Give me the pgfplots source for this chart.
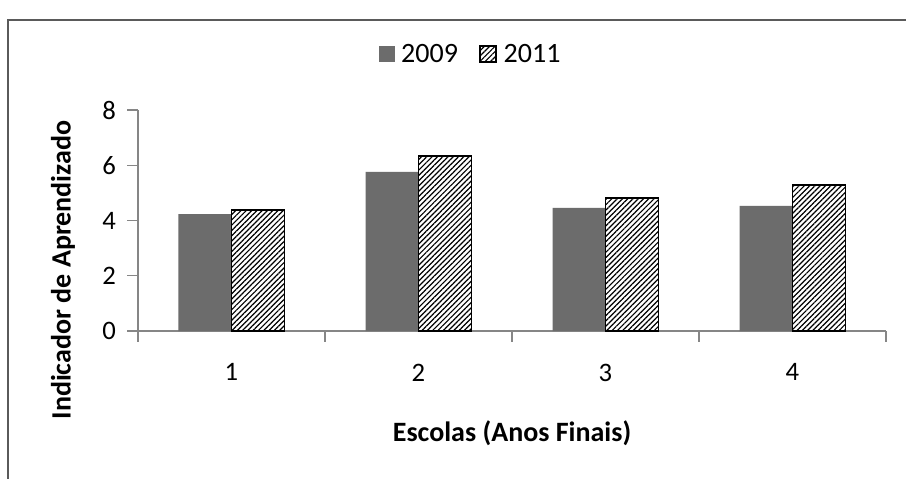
\documentclass[border=0pt]{standalone}
\usepackage{pgfplots}
\pgfplotsset{compat=1.18}
\usepackage{fontspec}
\setmainfont{Carlito}
\usetikzlibrary{patterns.meta}

\definecolor{bargray}{RGB}{108,108,108}
\definecolor{axgray}{RGB}{134,134,134}
\definecolor{framegray}{RGB}{90,90,90}

\newcommand{\tickfont}{\fontsize{20}{23}\selectfont}
\newcommand{\labfont}{\fontsize{21}{24}\selectfont}

\begin{document}
\begin{tikzpicture}
% page = 906 x 478 px, 1 px = 0.75pt, axis box lower-left at (0,0)
\begin{scope}[x=0.75pt,y=0.75pt]
  \useasboundingbox (-138,-147) rectangle (768,331);
  \fill[white] (-138,-147) rectangle (768,331);
  \draw[framegray,line width=1.5pt] (-130,-150) -- (-130,311) -- (770,311);
\end{scope}

\begin{axis}[
    at={(0,0)}, anchor=south west,
    scale only axis,
    width=561pt, height=165.75pt,
    ybar=0pt,
    bar width=39.75pt,
    xmin=0.5, xmax=4.5,
    ymin=0, ymax=8,
    axis x line*=bottom,
    axis y line*=left,
    axis line style={axgray,line width=1.1pt},
    xtick={0.5,1.5,2.5,3.5,4.5},
    xticklabels={1,2,3,4},
    x tick label as interval,
    ytick={0,2,4,6,8},
    tick align=outside,
    major tick length=8pt,
    xtick style={axgray,line width=1pt},
    ytick style={axgray,line width=1pt},
    tick label style={font=\tickfont,black},
    /pgf/number format/assume math mode=true,
    xticklabel style={yshift=-13pt},
    yticklabel style={xshift=-5pt},
    xlabel={\textbf{Escolas (Anos Finais)}},
    ylabel={\textbf{Indicador de Aprendizado}},
    xlabel style={at={(axis description cs:0.5,-0.4615)},anchor=center,font=\labfont},
    ylabel style={at={(axis description cs:-0.1003,0.276)},anchor=center,font=\labfont},
    legend columns=2,
    legend style={draw=none,fill=none,font=\labfont,
        at={(axis description cs:0.445,1.253)},anchor=center,
        /tikz/every even column/.append style={column sep=14pt},
        inner sep=0pt},
]
\addplot[fill=bargray,draw=none,
    legend image code/.code={\fill[bargray] (0pt,-6pt) rectangle (12pt,6pt);
        \path (15pt,0pt);}]
    coordinates {(1,4.23) (2,5.76) (3,4.46) (4,4.53)};
\addlegendentry{2009}
\addplot[draw=black,line width=1.4pt,
    pattern={Lines[angle=45,distance=2.8pt,line width=0.9pt]},pattern color=black,
    legend image code/.code={\draw[black,line width=1.2pt,
        pattern={Lines[angle=45,distance=2.8pt,line width=0.9pt]},pattern color=black]
        (0pt,-6pt) rectangle (12pt,6pt);
        \path (15pt,0pt);}]
    coordinates {(1,4.37) (2,6.32) (3,4.80) (4,5.30)};
\addlegendentry{2011}
\end{axis}
\end{tikzpicture}
\end{document}
